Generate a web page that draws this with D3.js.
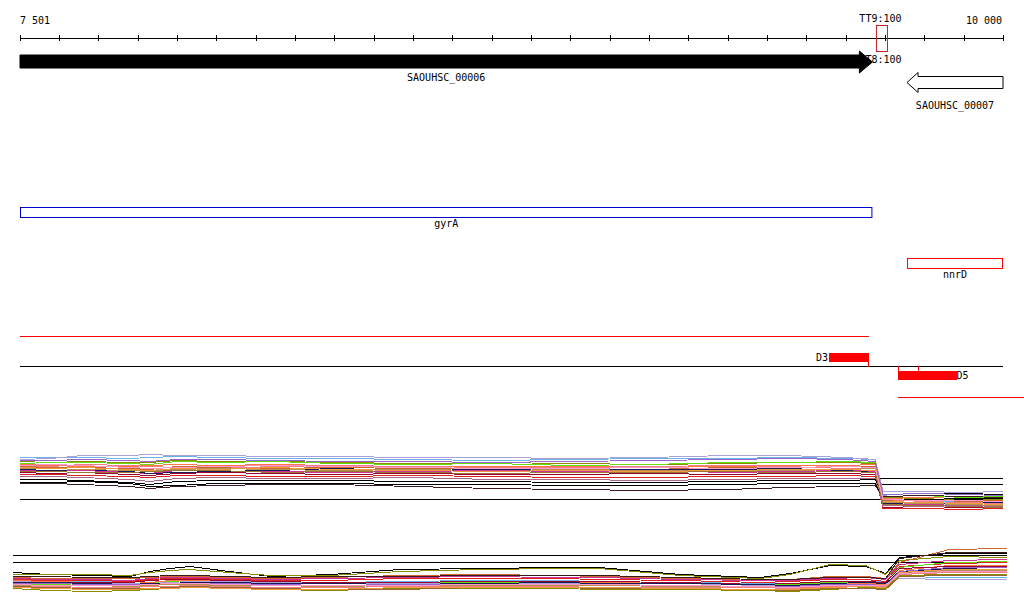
<!DOCTYPE html>
<html><head><meta charset="utf-8">
<script src="https://cdn.jsdelivr.net/npm/d3@7"></script>
<style>
html,body{margin:0;padding:0;background:#fff;}
svg text{font-family:"DejaVu Sans Mono",monospace;font-size:10px;fill:#000;}
</style></head><body>
<svg id="chart" width="1024" height="611"></svg>
<script>
// ---------- data ----------
const axisDomain = [7501, 10000];
const tickStep = 100;
const tickLabels = ["7 501", "10 000"];
const genes = [
  {name: "SAOUHSC_00006", start: 7501, end: 9668, strand: "+"},
  {name: "SAOUHSC_00007", start: 9756, end: 10000, strand: "-"}
];
const terminators = [{top: "TT9:100", bottom: "TT8:100", pos: 9691}];
const features = [
  {name: "gyrA", start: 7501, end: 9668},
  {name: "nnrD", start: 9756, end: 10000}
];
const primerLines = [
  {start: 7501, end: 9659},
  {start: 9734, end: 10053}
];
const primers = [
  {name: "D3", start: 9558, end: 9659, ticks: [9659]},
  {name: "D5", start: 9734, end: 9882, ticks: [9734, 9785]}
];
const baseline = {start: 7501, end: 10000};

// panel 1 profile data
const panel1Pos = [7501,7580,7660,7780,7830,7900,8000,8150,8300,8500,8700,8900,9100,9300,9450,9600,9675,9695,9800,9900,10000];
const panel1Values = [
  [55,55,55,54,55,56,55,54,54,53,52,53,54,54,55,54,53,17,12,11,13],
  [53,54,57,57,58,57,57,56,56,55,55,54,55,57,57,55,53,21,21,20,21],
  [51,52,51,50,50,52,51,51,50,49,50,49,48,49,50,50,49,15,14,12,13],
  [49,50,50,49,48,51,50,51,49,48,49,47,48,50,50,51,50,16,17,15,16],
  [48,47,46,46,47,48,47,48,47,45,46,46,45,46,47,47,48,14,15,14,15],
  [46,45,45,44,43,46,45,44,45,44,43,44,43,45,45,46,46,12,13,11,12],
  [47,46,48,47,46,45,44,46,47,46,45,45,46,47,46,44,44,13,11,10,9],
  [42,41,42,40,39,42,41,41,40,41,42,41,42,40,41,42,41,7,8,7,6],
  [40,39,40,38,37,39,40,39,38,39,38,38,39,38,39,39,38,5,6,5,5],
  [43,42,43,41,39,40,41,42,44,42,43,42,43,43,44,42,40,9,10,9,10],
  [44,44,43,42,41,43,44,43,42,43,44,43,42,41,42,43,44,10,9,8,7],
  [38,38,37,36,35,37,37,36,36,37,36,35,35,36,36,37,36,4,4,3,4],
  [36,36,35,33,31,34,35,34,34,35,33,33,32,33,34,34,34,7,6,7,6],
  [33,33,32,30,28,31,32,32,32,31,31,30,30,31,32,32,33,18,19,19,18],
  [29,29,28,26,24,26,27,28,28,26,24,23,22,23,25,26,27,16,17,16,15],
  [30,30,31,29,26,27,29,29,29,28,28,27,27,28,29,29,29,13,13,14,14],
  [52,52,53,52,51,53,53,52,51,51,50,51,52,53,54,53,51,18,19,18,17],
  [45,44,45,43,42,44,43,45,43,42,41,42,41,42,43,43,42,11,10,9,8],
  [47,48,47,45,44,45,46,47,46,45,44,44,45,44,45,46,45,13,12,12,11],
  [41,41,40,40,41,42,42,40,41,40,39,40,40,41,40,41,40,8,7,6,5]
];
const panel1Refs = [
  {start: 7501, end: 10000, value: 13},
  {start: 9682, end: 10000, value: 34},
  {start: 9682, end: 10000, value: 28}
];

// panel 2 profile data
const panel2Pos = [7501,7590,7705,7795,7845,7895,7945,8045,8150,8300,8475,8675,8875,8975,9180,9380,9455,9555,9645,9695,9730,9855,10000];
const panel2Values = [
  [23,21,20,19,24,27,29,24,19,21,26,27,28,28,21,18,22,30,29,22,38,42,42],
  [21,21,21,20,23,25,26,23,20,20,24,26,27,27,20,17,21,31,30,21,35,39,38],
  [18,17,17,17,18,19,19,18,17,18,20,21,20,19,17,15,16,19,19,17,33,46,47],
  [13,14,14,14,15,16,16,15,14,13,14,15,15,14,13,12,12,13,13,14,19,18,18],
  [17,16,16,15,17,18,18,17,16,17,18,19,18,18,16,15,15,17,18,16,31,35,36],
  [16,15,15,14,16,17,17,16,15,15,17,17,17,16,15,13,14,16,16,14,29,32,33],
  [11,11,12,12,13,14,15,13,12,12,13,13,13,13,12,11,11,13,12,13,28,33,34],
  [15,14,13,12,13,15,15,14,13,12,13,14,14,13,12,10,10,12,12,11,25,30,30],
  [14,13,12,12,12,13,14,14,13,12,12,12,12,12,12,10,9,11,11,12,17,16,16],
  [12,12,13,13,15,16,16,15,14,13,13,14,14,14,13,11,12,14,14,13,27,29,29],
  [13,13,12,11,12,12,13,13,12,12,11,12,13,12,12,11,10,12,13,12,24,27,28],
  [10,10,10,9,10,11,11,10,10,9,10,10,10,10,9,8,8,10,10,9,22,25,25],
  [9,9,8,8,9,9,10,9,8,8,9,9,9,8,8,8,7,9,9,9,21,23,23],
  [7,5,4,5,6,7,8,8,6,5,7,7,7,6,6,5,4,6,8,7,20,21,21],
  [9,8,7,7,7,8,9,8,7,6,6,8,8,7,7,6,5,7,7,6,19,20,20],
  [8,7,6,6,7,7,8,7,6,6,8,8,8,8,7,6,6,8,9,8,23,26,26],
  [12,12,11,11,11,12,12,12,11,10,11,11,11,11,10,9,9,11,11,10,24,28,28],
  [11,10,10,10,11,12,12,11,10,10,10,11,11,11,10,9,8,10,10,10,22,24,24],
  [19,19,18,18,19,20,20,19,18,19,19,20,20,20,18,16,16,18,18,17,37,43,43]
];
const panel2Refs = [
  {start: 7501, end: 10000, value: 40},
  {start: 7501, end: 10000, value: 33}
];

// ---------- styles ----------
const panel1Colors = ["#6cb0e8","#a8a2d8","#8c8c00","#66dd11","#ff7744","#cc6633","#f08080","#cc3399","#990033","#1a1a55","#b89050","#dd2222","#aa6688","#000000","#3a1a1a","#000000","#9966cc","#ee9944","#ff99cc","#997733"];
const panel2Colors = ["#000000","#8c8c00","#cc6633","#6cb0e8","#cc3399","#dd2222","#66dd11","#ff7744","#a8a2d8","#990033","#1a1a55","#b89050","#f08080","#8c8c00","#996633","#ee9944","#9966cc","#ff99cc","#3a1a1a"];

// ---------- drawing ----------
const svg = d3.select("#chart");
const x = d3.scaleLinear().domain(axisDomain).range([20, 1003]);
const x2 = d3.scaleLinear().domain(axisDomain).range([13, 1007]);
const y1 = d3.scaleLinear().domain([0, 60]).range([512, 452]);
const y2 = d3.scaleLinear().domain([0, 50]).range([595, 545]);

// axis
const ticks = [axisDomain[0]].concat(d3.range(7600, axisDomain[1] + 1, tickStep));
const axisG = svg.append("g").attr("transform", "translate(0,38)");
const axis = d3.axisBottom(x).tickValues(ticks).tickFormat("").tickSizeInner(3).tickSizeOuter(0);
axisG.call(axis);
axisG.select(".domain").attr("stroke", "#000").attr("d", `M${x(axisDomain[0])},0H${x(axisDomain[1])}`);
axisG.selectAll(".tick line").attr("stroke", "#000").attr("y1", -3).attr("y2", 3);
axisG.attr("shape-rendering", "crispEdges");
svg.append("text").attr("x", x(axisDomain[0])).attr("y", 24).text(tickLabels[0]);
svg.append("text").attr("x", x(axisDomain[1]) - 1).attr("y", 24).attr("text-anchor", "end").text(tickLabels[1]);

// terminators
terminators.forEach(t => {
  svg.append("text").attr("x", x(t.pos) - 1).attr("y", 22).attr("text-anchor", "middle").text(t.top);
  svg.append("text").attr("x", x(t.pos) - 1).attr("y", 63).attr("text-anchor", "middle").text(t.bottom);
});

// genes
genes.forEach(g => {
  const x0 = x(g.start), x1 = x(g.end);
  let p;
  if (g.strand === "+") {
    const hb = x1 - 13;
    p = `M${x0},55H${hb}V51L${x1},62L${hb},73V68H${x0}Z`;
    svg.append("path").attr("d", p).attr("fill", "#000").attr("stroke", "#000");
    svg.append("text").attr("x", (x0 + x1) / 2).attr("y", 81).attr("text-anchor", "middle").text(g.name);
  } else {
    const hb = x0 + 11;
    p = `M${x1},76.5H${hb}V72.5L${x0},82.5L${hb},92.5V88.5H${x1}Z`;
    svg.append("path").attr("d", p).attr("fill", "#fff").attr("stroke", "#000");
    svg.append("text").attr("x", (x0 + x1) / 2).attr("y", 109).attr("text-anchor", "middle").text(g.name);
  }
});
terminators.forEach(t => {
  svg.append("rect").attr("x", x(t.pos) - 5).attr("y", 25.5).attr("width", 11).attr("height", 26)
    .attr("fill", "none").attr("stroke", "#c02020");
});

// features
const featStroke = {gyrA: "#0000cc", nnrD: "#ff0000"};
const featY = {gyrA: 207.5, nnrD: 258.5};
const featLabelY = {gyrA: 227, nnrD: 278};
features.forEach(f => {
  svg.append("rect").attr("x", x(f.start) + 0.5).attr("y", featY[f.name])
    .attr("width", x(f.end) - x(f.start) - 1).attr("height", 10)
    .attr("fill", "none").attr("stroke", featStroke[f.name]);
  svg.append("text").attr("x", (x(f.start) + x(f.end)) / 2).attr("y", featLabelY[f.name])
    .attr("text-anchor", "middle").text(f.name);
});

// primer track
const pl = svg.append("g").attr("shape-rendering", "crispEdges");
const lineY = [336.5, 397.5];
primerLines.forEach((l, i) => {
  pl.append("line").attr("x1", x(l.start)).attr("x2", x(l.end)).attr("y1", lineY[i]).attr("y2", lineY[i]).attr("stroke", "#ff0000");
});
pl.append("line").attr("x1", x(baseline.start)).attr("x2", x(baseline.end)).attr("y1", 366.5).attr("y2", 366.5).attr("stroke", "#000");
primers.forEach((p, i) => {
  const ry = i === 0 ? 353 : 371;
  pl.append("rect").attr("x", x(p.start)).attr("y", ry).attr("width", x(p.end) - x(p.start)).attr("height", 9).attr("fill", "#ff0000");
  p.ticks.forEach(t => {
    pl.append("line").attr("x1", x(t)).attr("x2", x(t)).attr("y1", i === 0 ? 361 : 366).attr("y2", i === 0 ? 367 : 372).attr("stroke", "#ff0000");
  });
  if (i === 0) {
    svg.append("text").attr("x", x(p.start) - 1).attr("y", 361).attr("text-anchor", "end").text(p.name);
  } else {
    svg.append("text").attr("x", x(p.end)).attr("y", 379).text(p.name);
  }
});

// profiles
function drawPanel(pos, values, colors, refs, xs, ys) {
  const g = svg.append("g").attr("shape-rendering", "crispEdges");
  refs.forEach(r => {
    g.append("line").attr("x1", xs(r.start)).attr("x2", xs(r.end))
      .attr("y1", Math.round(ys(r.value)) + 0.5).attr("y2", Math.round(ys(r.value)) + 0.5)
      .attr("stroke", "#000");
  });
  const line = d3.line().x((d, i) => xs(pos[i])).y(d => Math.round(ys(d)) + 0.5);
  values.forEach((s, k) => {
    g.append("path").attr("d", line(s)).attr("fill", "none")
      .attr("stroke", colors[k % colors.length]).attr("stroke-width", 1);
  });
}
drawPanel(panel1Pos, panel1Values, panel1Colors, panel1Refs, x, y1);
drawPanel(panel2Pos, panel2Values, panel2Colors, panel2Refs, x2, y2);
</script>
</body></html>
